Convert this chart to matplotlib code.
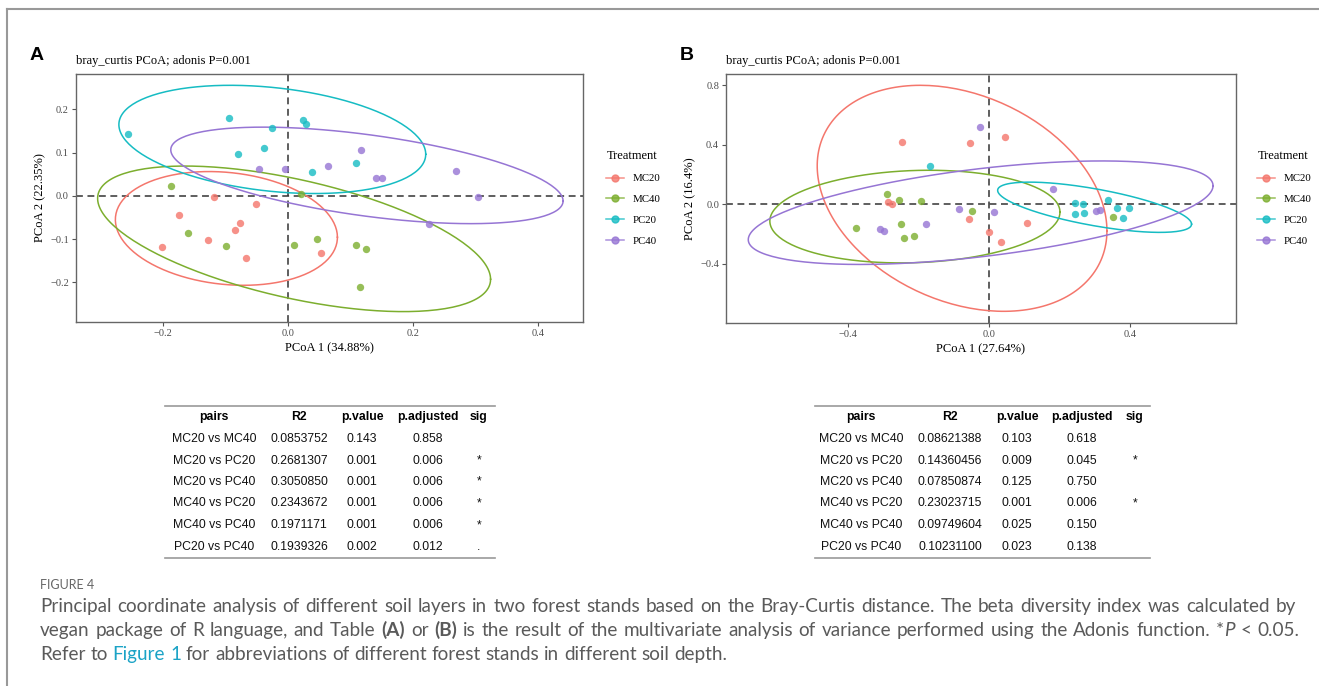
import numpy as np
import matplotlib
matplotlib.use("Agg")
import matplotlib.pyplot as plt
from matplotlib.lines import Line2D

# === DATA ===
GROUPS = ["MC20", "MC40", "PC20", "PC40"]
COLORS = ["#F4766C", "#7CAE2E", "#16BCC3", "#9675D4"]

# panel A scores (PCoA 1, PCoA 2)
A_MC20_X = [-0.202, -0.174, -0.129, -0.119, -0.085, -0.077, -0.067, -0.052, 0.052]
A_MC20_Y = [-0.119, -0.045, -0.103, -0.003, -0.079, -0.062, -0.144, -0.019, -0.133]
A_MC40_X = [-0.188, -0.160, -0.100, 0.010, 0.020, 0.047, 0.109, 0.124, 0.115]
A_MC40_Y = [0.022, -0.086, -0.116, -0.113, 0.004, -0.101, -0.113, -0.123, -0.210]
A_PC20_X = [-0.256, -0.095, -0.025, -0.080, -0.038, 0.024, 0.029, 0.038, 0.109]
A_PC20_Y = [0.142, 0.179, 0.156, 0.096, 0.110, 0.175, 0.165, 0.054, 0.076]
A_PC40_X = [-0.047, -0.005, 0.064, 0.117, 0.141, 0.150, 0.268, 0.304, 0.226]
A_PC40_Y = [0.062, 0.062, 0.070, 0.107, 0.040, 0.040, 0.058, -0.003, -0.065]

# panel B scores
B_MC20_X = [-0.247, -0.056, -0.288, -0.277, -0.058, 0.046, -0.002, 0.034, 0.108]
B_MC20_Y = [0.416, 0.409, 0.017, 0.004, -0.097, 0.450, -0.184, -0.251, -0.126]
B_MC40_X = [-0.379, -0.290, -0.255, -0.250, -0.242, -0.214, -0.195, -0.050, 0.351]
B_MC40_Y = [-0.159, 0.071, 0.031, -0.132, -0.224, -0.215, 0.020, -0.045, -0.083]
B_PC20_X = [-0.168, 0.242, 0.266, 0.242, 0.270, 0.337, 0.361, 0.396, 0.380]
B_PC20_Y = [0.259, 0.007, 0.000, -0.065, -0.056, 0.031, -0.027, -0.023, -0.094]
B_PC40_X = [-0.310, -0.298, -0.180, -0.085, -0.026, 0.013, 0.181, 0.304, 0.313]
B_PC40_Y = [-0.166, -0.179, -0.130, -0.032, 0.519, -0.052, 0.100, -0.047, -0.038]

# adonis pairwise tables
PAIRS = ["MC20 vs MC40", "MC20 vs PC20", "MC20 vs PC40",
         "MC40 vs PC20", "MC40 vs PC40", "PC20 vs PC40"]
A_R2 = ["0.0853752", "0.2681307", "0.3050850", "0.2343672", "0.1971171", "0.1939326"]
A_PVAL = ["0.143", "0.001", "0.001", "0.001", "0.001", "0.002"]
A_PADJ = ["0.858", "0.006", "0.006", "0.006", "0.006", "0.012"]
A_SIG = ["", "*", "*", "*", "*", "."]
B_R2 = ["0.08621388", "0.14360456", "0.07850874", "0.23023715", "0.09749604", "0.10231100"]
B_PVAL = ["0.103", "0.009", "0.125", "0.001", "0.025", "0.023"]
B_PADJ = ["0.618", "0.045", "0.750", "0.006", "0.150", "0.138"]
B_SIG = ["", "*", "", "*", "", ""]


# === HELPERS ===
def cov_trob(pts, nu=5, maxit=25, tol=0.01):
    # same iteration as MASS::cov.trob (what stat_ellipse uses)
    n, p = pts.shape
    loc = pts.mean(axis=0)
    w = np.ones(n)
    for _ in range(maxit):
        w0 = w
        X = pts - loc
        _, d, vt = np.linalg.svd(np.sqrt(w / w.sum())[:, None] * X, full_matrices=False)
        wX = X @ vt.T @ np.diag(1 / d)
        Q = (wX ** 2).sum(axis=1)
        w = (nu + p) / (nu + Q)
        loc = (w[:, None] * pts).sum(axis=0) / w.sum()
        if np.all(np.abs(w - w0) < tol):
            break
    sx = np.sqrt(w)[:, None] * X
    return loc, sx.T @ sx / n


def ellipse(xs, ys, level=0.95, segs=200):
    pts = np.column_stack([xs, ys])
    center, shape = cov_trob(pts)
    dfd = len(xs) - 1
    qf = dfd / 2 * ((1 - level) ** (-2 / dfd) - 1)  # F(2, dfd) quantile
    radius = np.sqrt(2 * qf)
    t = np.linspace(0, 2 * np.pi, segs)
    circ = np.column_stack([np.cos(t), np.sin(t)])
    L = np.linalg.cholesky(shape)
    return center + radius * (circ @ L.T)


SERIF = "Liberation Serif"
SANS = "Liberation Sans"

W, H = 1319, 686
fig = plt.figure(figsize=(W / 100, H / 100), dpi=100)


def fx(px):
    return px / W


def fy(py):
    return 1 - py / H


def pcoa_panel(rect, data, xlabel, ylabel, xticks, yticks, xlim, ylim, letter, legend_x):
    ax = fig.add_axes([fx(rect[0]), fy(rect[3]), fx(rect[2] - rect[0]), (rect[3] - rect[1]) / H])
    ax.axvline(0, color="#333333", ls=(0, (4.5, 3)), lw=1.1, zorder=1)
    ax.axhline(0, color="#333333", ls=(0, (4.5, 3)), lw=1.1, zorder=1)
    for (xs, ys), col in zip(data, COLORS):
        ax.scatter(xs, ys, s=28, color=col, alpha=0.8, lw=0, zorder=3)
        e = ellipse(xs, ys)
        ax.plot(e[:, 0], e[:, 1], color=col, lw=1.1, zorder=2)
    ax.set_xlim(xlim)
    ax.set_ylim(ylim)
    ax.set_xticks(xticks)
    ax.set_yticks(yticks)
    ax.set_xticklabels([f"{v:.1f}".replace("-", "\u2212") for v in xticks])
    ax.set_yticklabels([f"{v:.1f}".replace("-", "\u2212") for v in yticks])
    ax.tick_params(length=3, width=0.8, color="#555555", labelsize=7.5,
                   labelcolor="#4d4d4d", pad=2)
    for lab in ax.get_xticklabels() + ax.get_yticklabels():
        lab.set_fontfamily(SERIF)
    for sp in ax.spines.values():
        sp.set_color("#666666")
        sp.set_linewidth(1.0)
    ax.set_xlabel(xlabel, fontfamily=SERIF, fontsize=9, labelpad=3)
    ax.set_ylabel(ylabel, fontfamily=SERIF, fontsize=9, labelpad=3)
    ax.set_title("bray_curtis PCoA; adonis P=0.001", loc="left", fontfamily=SERIF,
                 fontsize=9, pad=7)
    fig.text(fx(rect[0] - 46), fy(55), letter, fontfamily=SANS, fontweight="bold",
             fontsize=14, va="center", ha="left")
    handles = [Line2D([], [], color=c, marker="o", markersize=5, lw=1.1, alpha=0.8)
               for c in COLORS]
    leg = fig.legend(handles, GROUPS, title="Treatment", loc="upper left",
                     bbox_to_anchor=(fx(legend_x), fy(146)), frameon=False,
                     prop={"family": SERIF, "size": 7.8}, handlelength=1.6,
                     labelspacing=1.05, handletextpad=0.8, borderaxespad=0)
    leg.get_title().set_fontfamily(SERIF)
    leg.get_title().set_fontsize(9)
    leg._legend_box.align = "left"
    return ax


pcoa_panel((75.7, 74, 583, 322),
           [(A_MC20_X, A_MC20_Y), (A_MC40_X, A_MC40_Y), (A_PC20_X, A_PC20_Y), (A_PC40_X, A_PC40_Y)],
           "PCoA 1 (34.88%)", "PCoA 2 (22.35%)",
           [-0.2, 0.0, 0.2, 0.4], [-0.2, -0.1, 0.0, 0.1, 0.2],
           (-0.34, 0.472), (-0.292, 0.2817), "A", 602)
pcoa_panel((726, 74, 1236, 323),
           [(B_MC20_X, B_MC20_Y), (B_MC40_X, B_MC40_Y), (B_PC20_X, B_PC20_Y), (B_PC40_X, B_PC40_Y)],
           "PCoA 1 (27.64%)", "PCoA 2 (16.4%)",
           [-0.4, 0.0, 0.4], [-0.4, 0.0, 0.4, 0.8],
           (-0.747, 0.70), (-0.797, 0.874), "B", 1253)


# === TABLES ===
ROW_Y = [439, 460.7, 481.7, 503.3, 525, 546.7]
HEAD = ["pairs", "R2", "p.value", "p.adjusted", "sig"]


def table(cols_x, rule_x, cols):
    for cx, h in zip(cols_x, HEAD):
        fig.text(fx(cx), fy(417), h, fontfamily=SANS, fontweight="bold", fontsize=8.8,
                 ha="center", va="center")
    for cx, vals in zip(cols_x, cols):
        for ry, v in zip(ROW_Y, vals):
            fig.text(fx(cx), fy(ry), v, fontfamily=SANS, fontsize=8.8,
                     ha="center", va="center", color="#111111")
    for ry in (405.7, 557.5):
        fig.add_artist(Line2D([fx(rule_x[0]), fx(rule_x[1])], [fy(ry), fy(ry)],
                              color="#999999", lw=1.2))


table([214, 299, 362, 428, 479], (165, 495), [PAIRS, A_R2, A_PVAL, A_PADJ, A_SIG])
table([861, 950, 1017, 1082, 1135], (815, 1150), [PAIRS, B_R2, B_PVAL, B_PADJ, B_SIG])

# === FRAME ===
fig.add_artist(Line2D([fx(7), fx(7)], [fy(9), fy(686)], color="#999999", lw=1.5))
fig.add_artist(Line2D([fx(7), fx(1319)], [fy(9), fy(9)], color="#999999", lw=1.5))

# === CAPTION (justified like the journal page) ===
CAP = "Lato"
CAP_SIZE = 13.6
fig.text(fx(40), fy(585), "FIGURE 4", fontfamily=CAP, fontsize=9, color="#666666",
         va="center")

fig.canvas.draw()
renderer = fig.canvas.get_renderer()
NORMAL = {}
BOLD = {"fontweight": "bold"}
ITAL = {"fontstyle": "italic"}
LINK = {"color": "#1BA3C6"}


def words(text, style=NORMAL):
    return [[(w, style)] for w in text.split()]


def text_width(s):
    t = fig.text(0, 0, s, fontfamily=CAP, fontsize=CAP_SIZE)
    w = t.get_window_extent(renderer).width
    t.remove()
    return w


def caption_line(base_px, tokens, right_px=None, x0_px=40):
    # measure each word, then spread the gaps so the line ends at right_px
    drawn = []
    widths = []
    for tok in tokens:
        pieces = []
        wsum = 0
        for s, kw in tok:
            style = {"color": "#5a5a5a"}
            style.update(kw)
            t = fig.text(0, fy(base_px), s, fontfamily=CAP, fontsize=CAP_SIZE,
                         va="baseline", ha="left", **style)
            w = t.get_window_extent(renderer).width
            pieces.append((t, wsum))
            wsum += w
        drawn.append(pieces)
        widths.append(wsum)
    if right_px is None:
        gap = text_width("a a") - text_width("aa")
    else:
        gap = (right_px - x0_px - sum(widths)) / (len(tokens) - 1)
    x = x0_px
    for pieces, w in zip(drawn, widths):
        for t, off in pieces:
            t.set_x(fx(x + off))
        x += w + gap


caption_line(612, words("Principal coordinate analysis of different soil layers in two forest "
                        "stands based on the Bray-Curtis distance. The beta diversity index was "
                        "calculated by"), right_px=1296)
caption_line(636, words("vegan package of R language, and Table") + [[("(A)", BOLD)]]
             + words("or") + [[("(B)", BOLD)]]
             + words("is the result of the multivariate analysis of variance performed using "
                     "the Adonis function.")
             + [[("*", NORMAL), ("P", ITAL)]] + words("< 0.05."), right_px=1299)
caption_line(660, words("Refer to") + [[("Figure", LINK)], [("1", LINK)]]
             + words("for abbreviations of different forest stands in different soil depth."))

fig.savefig("out.png", dpi=100)
